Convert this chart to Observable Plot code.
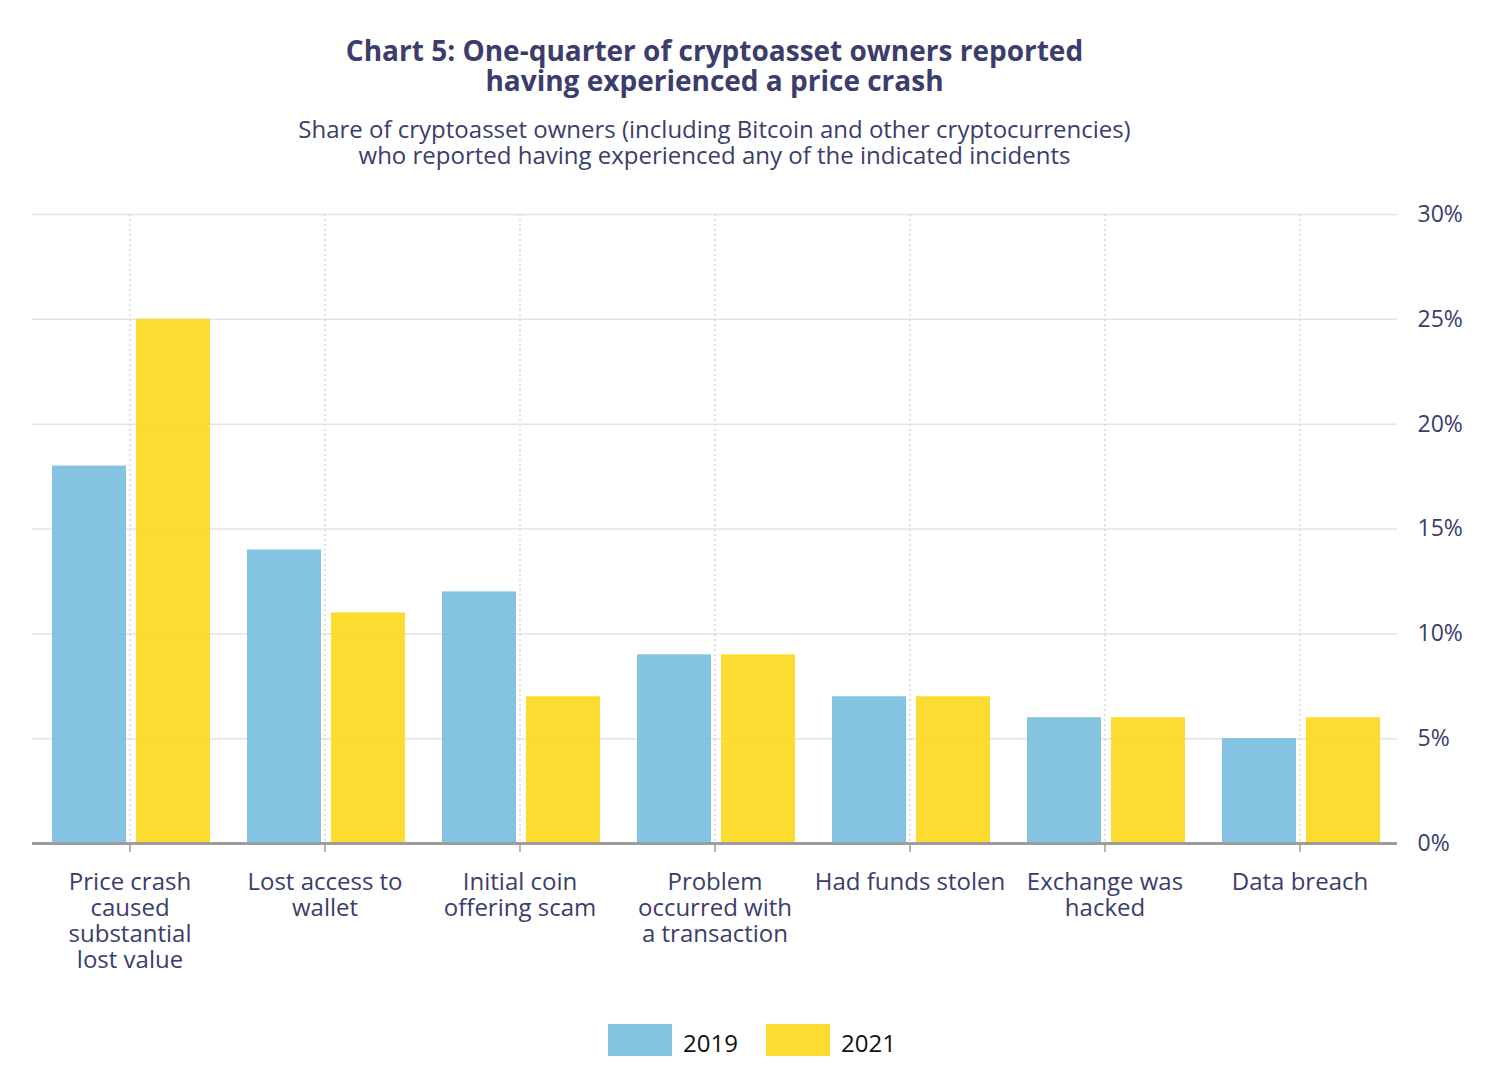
<!DOCTYPE html>
<html><head><meta charset="utf-8">
<script src="https://cdn.jsdelivr.net/npm/d3@7"></script>
<script src="https://cdn.jsdelivr.net/npm/@observablehq/plot@0.6"></script>
<style>
body{margin:0;background:#fff;font-family:"Open Sans",sans-serif;}
#wrap{position:relative;width:1500px;height:1078px;overflow:hidden;}
#title{position:absolute;top:35px;left:32px;width:1365px;text-align:center;font-weight:700;font-size:28px;line-height:30px;color:#3b3d6b;}
#sub{position:absolute;top:116px;left:32px;width:1365px;text-align:center;font-size:24px;line-height:26px;color:#3b3d6b;}
#chart{position:absolute;top:190px;left:0;}
#legend{position:absolute;top:1024px;left:0;width:1500px;height:32px;}
.sw{position:absolute;top:0;width:64px;height:32px;}
.lb{position:absolute;top:0;height:32px;line-height:38px;font-size:24px;color:#111;}
</style>
</head><body>
<div id="wrap">
<div id="title"></div>
<div id="sub"></div>
<div id="chart"></div>
<div id="legend"></div>
</div>
<script>
const titleLines = ["Chart 5: One-quarter of cryptoasset owners reported", "having experienced a price crash"];
const subtitleLines = ["Share of cryptoasset owners (including Bitcoin and other cryptocurrencies)", "who reported having experienced any of the indicated incidents"];
const categories = ["Price crash caused substantial lost value", "Lost access to wallet", "Initial coin offering scam", "Problem occurred with a transaction", "Had funds stolen", "Exchange was hacked", "Data breach"];
const tickLabels = ["Price crash\ncaused\nsubstantial\nlost value", "Lost access to\nwallet", "Initial coin\noffering scam", "Problem\noccurred with\na transaction", "Had funds stolen", "Exchange was\nhacked", "Data breach"];
const years = ["2019", "2021"];
const values2019 = [18, 14, 12, 9, 7, 6, 5];
const values2021 = [25, 11, 7, 9, 7, 6, 6];
const yTicks = [0, 5, 10, 15, 20, 25, 30];
const colors = ["#7abfe0", "#fcd920"];

document.getElementById("title").innerHTML = titleLines.join("<br>");
document.getElementById("sub").innerHTML = subtitleLines.join("<br>");

const rows2019 = categories.map((c, i) => ({category: c, year: years[0], value: values2019[i]}));
const rows2021 = categories.map((c, i) => ({category: c, year: years[1], value: values2021[i]}));

const chart = Plot.plot({
  width: 1500, height: 810,
  marginTop: 24, marginBottom: 157, marginLeft: 32, marginRight: 103,
  style: {fontFamily: "Open Sans", fontSize: "24px", color: "#3b3d6b", background: "transparent"},
  x: {domain: categories, padding: 0, axis: null},
  y: {domain: [0, 30], axis: null},
  marks: [
    Plot.gridY(yTicks, {stroke: "#e4e4e4", strokeOpacity: 1, strokeWidth: 1.5}),
    Plot.gridX(categories, {stroke: "#d8d8d8", strokeOpacity: 1, strokeWidth: 1.5, strokeDasharray: "2,3"}),
    Plot.barY(rows2019, {x: "category", y: "value", fill: colors[0], fillOpacity: 0.92, insetLeft: 20, insetRight: 101}),
    Plot.barY(rows2021, {x: "category", y: "value", fill: colors[1], fillOpacity: 0.92, insetLeft: 104, insetRight: 17}),
    Plot.ruleY([0], {stroke: "#9c9c9c", strokeWidth: 3}),
    Plot.axisX({tickSize: 9, stroke: "#9c9c9c", strokeWidth: 1.5, fill: "#3b3d6b", tickPadding: 19, lineHeight: 1.08,
      label: null, tickFormat: d => tickLabels[categories.indexOf(d)]}),
    Plot.axisY(yTicks, {anchor: "right", tickSize: 0, tickPadding: 20, textAnchor: "start", fill: "#3b3d6b",
      fontSize: 23, label: null, tickFormat: d => d + "%"})
  ]
});
document.getElementById("chart").appendChild(chart);

const legend = document.getElementById("legend");
const legendX = [608, 766];
years.forEach((y, i) => {
  const sw = document.createElement("div");
  sw.className = "sw"; sw.style.left = legendX[i] + "px"; sw.style.background = colors[i]; sw.style.opacity = 0.92;
  legend.appendChild(sw);
  const lb = document.createElement("div");
  lb.className = "lb"; lb.style.left = (legendX[i] + 75) + "px"; lb.textContent = y;
  legend.appendChild(lb);
});
</script>
</body></html>
